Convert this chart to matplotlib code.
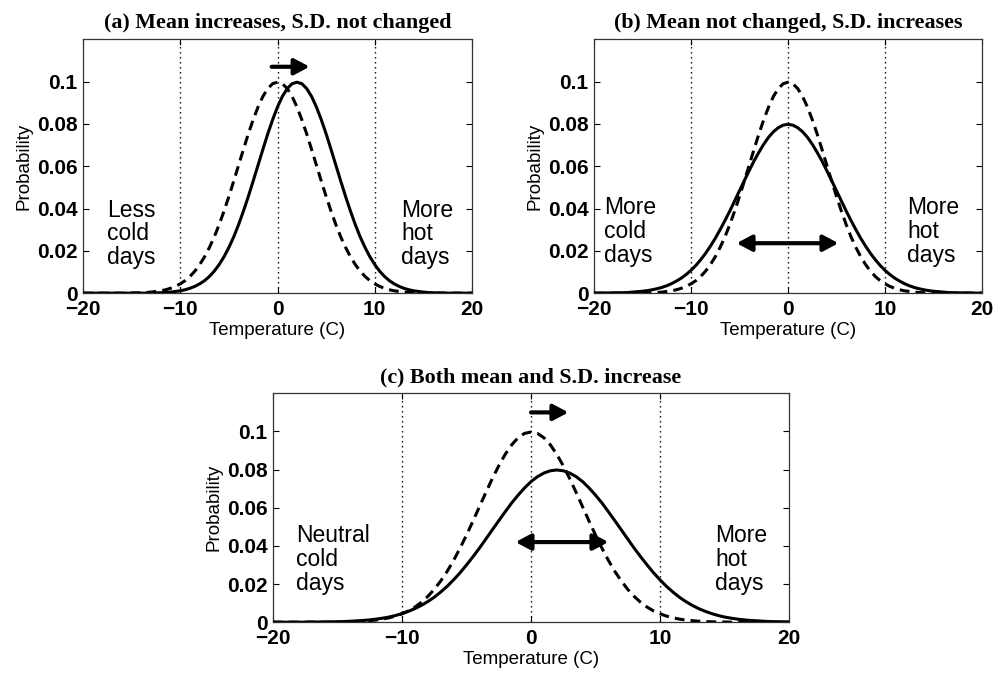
import matplotlib
matplotlib.use("Agg")
import matplotlib.pyplot as plt

# temperature grid (C), every half degree
temps = [-20.0, -19.5, -19.0, -18.5, -18.0, -17.5, -17.0, -16.5, -16.0, -15.5,
         -15.0, -14.5, -14.0, -13.5, -13.0, -12.5, -12.0, -11.5, -11.0, -10.5,
         -10.0, -9.5, -9.0, -8.5, -8.0, -7.5, -7.0, -6.5, -6.0, -5.5,
         -5.0, -4.5, -4.0, -3.5, -3.0, -2.5, -2.0, -1.5, -1.0, -0.5,
         0.0,
         0.5, 1.0, 1.5, 2.0, 2.5, 3.0, 3.5, 4.0, 4.5, 5.0,
         5.5, 6.0, 6.5, 7.0, 7.5, 8.0, 8.5, 9.0, 9.5, 10.0,
         10.5, 11.0, 11.5, 12.0, 12.5, 13.0, 13.5, 14.0, 14.5, 15.0,
         15.5, 16.0, 16.5, 17.0, 17.5, 18.0, 18.5, 19.0, 19.5, 20.0]

# reference distribution (dashed, same in every panel)
prob_base = [0, 0, 0, 0, 0, 0, 0, 0, 0, 0,
             0.0001, 0.0001, 0.0002, 0.0003, 0.0005, 0.0008, 0.0011, 0.0016, 0.0023, 0.0032,
             0.0044, 0.0059, 0.0079, 0.0104, 0.0135, 0.0172, 0.0216, 0.0266, 0.0324, 0.0388,
             0.0457, 0.0530, 0.0605, 0.0680, 0.0753, 0.0820, 0.0880, 0.0930, 0.0967, 0.0990,
             0.0997,
             0.0990, 0.0967, 0.0930, 0.0880, 0.0820, 0.0753, 0.0680, 0.0605, 0.0530, 0.0457,
             0.0388, 0.0324, 0.0266, 0.0216, 0.0172, 0.0135, 0.0104, 0.0079, 0.0059, 0.0044,
             0.0032, 0.0023, 0.0016, 0.0011, 0.0008, 0.0005, 0.0003, 0.0002, 0.0001, 0.0001,
             0, 0, 0, 0, 0, 0, 0, 0, 0, 0]

# (a) mean shifted warmer, same spread
prob_a = [0, 0, 0, 0, 0, 0, 0, 0, 0, 0,
          0, 0, 0, 0, 0.0001, 0.0001, 0.0002, 0.0003, 0.0005, 0.0008,
          0.0011, 0.0016, 0.0023, 0.0032, 0.0044, 0.0059, 0.0079, 0.0104, 0.0135, 0.0172,
          0.0216, 0.0266, 0.0324, 0.0388, 0.0457, 0.0530, 0.0605, 0.0680, 0.0753, 0.0820,
          0.0880, 0.0930, 0.0967, 0.0990, 0.0997, 0.0990, 0.0967, 0.0930, 0.0880, 0.0820,
          0.0753, 0.0680, 0.0605, 0.0530, 0.0457, 0.0388, 0.0324, 0.0266, 0.0216, 0.0172,
          0.0135, 0.0104, 0.0079, 0.0059, 0.0044, 0.0032, 0.0023, 0.0016, 0.0011, 0.0008,
          0.0005, 0.0003, 0.0002, 0.0001, 0.0001, 0, 0, 0, 0, 0,
          0]

# (b) same mean, wider spread
prob_b = [0, 0, 0.0001, 0.0001, 0.0001, 0.0002, 0.0002, 0.0003, 0.0005, 0.0007,
          0.0009, 0.0012, 0.0016, 0.0021, 0.0027, 0.0035, 0.0045, 0.0057, 0.0071, 0.0088,
          0.0108, 0.0131, 0.0158, 0.0188, 0.0222, 0.0259, 0.0300, 0.0343, 0.0388, 0.0436,
          0.0484, 0.0532, 0.0579, 0.0625, 0.0666, 0.0704, 0.0737, 0.0763, 0.0782, 0.0794,
          0.0798,
          0.0794, 0.0782, 0.0763, 0.0737, 0.0704, 0.0666, 0.0625, 0.0579, 0.0532, 0.0484,
          0.0436, 0.0388, 0.0343, 0.0300, 0.0259, 0.0222, 0.0188, 0.0158, 0.0131, 0.0108,
          0.0088, 0.0071, 0.0057, 0.0045, 0.0035, 0.0027, 0.0021, 0.0016, 0.0012, 0.0009,
          0.0007, 0.0005, 0.0003, 0.0002, 0.0002, 0.0001, 0.0001, 0.0001, 0, 0]

# (c) mean shifted warmer and wider spread
prob_c = [0, 0, 0, 0, 0, 0, 0.0001, 0.0001, 0.0001, 0.0002,
          0.0002, 0.0003, 0.0005, 0.0007, 0.0009, 0.0012, 0.0016, 0.0021, 0.0027, 0.0035,
          0.0045, 0.0057, 0.0071, 0.0088, 0.0108, 0.0131, 0.0158, 0.0188, 0.0222, 0.0259,
          0.0300, 0.0343, 0.0388, 0.0436, 0.0484, 0.0532, 0.0579, 0.0625, 0.0666, 0.0704,
          0.0737, 0.0763, 0.0782, 0.0794, 0.0798, 0.0794, 0.0782, 0.0763, 0.0737, 0.0704,
          0.0666, 0.0625, 0.0579, 0.0532, 0.0484, 0.0436, 0.0388, 0.0343, 0.0300, 0.0259,
          0.0222, 0.0188, 0.0158, 0.0131, 0.0108, 0.0088, 0.0071, 0.0057, 0.0045, 0.0035,
          0.0027, 0.0021, 0.0016, 0.0012, 0.0009, 0.0007, 0.0005, 0.0003, 0.0002, 0.0002,
          0.0001]

titles = ["(a) Mean increases, S.D. not changed",
          "(b) Mean not changed, S.D. increases",
          "(c) Both mean and S.D. increase"]
left_notes = ["Less\ncold\ndays", "More\ncold\ndays", "Neutral\ncold\ndays"]
right_notes = ["More\nhot\ndays", "More\nhot\ndays", "More\nhot\ndays"]

x_ticks = [-20, -10, 0, 10, 20]
y_ticks = [0, 0.02, 0.04, 0.06, 0.08, 0.1]
y_tick_labels = ["0", "0.02", "0.04", "0.06", "0.08", "0.1"]
ref_lines = [-10, 0, 10]

SANS = "Liberation Sans"
SERIF = "Liberation Serif"

fig = plt.figure(figsize=(10, 6.77), dpi=100)

ax_a = fig.add_axes([0.083, 0.567, 0.389, 0.375])
ax_b = fig.add_axes([0.594, 0.567, 0.388, 0.375])
ax_c = fig.add_axes([0.273, 0.081, 0.516, 0.338])


def setup(ax, title, solid):
    for xv in ref_lines:
        ax.axvline(xv, color="k", lw=1.0, linestyle=(0, (1, 2.6)), zorder=1)
    ax.plot(temps, prob_base, color="k", lw=2.2, linestyle=(0, (3.2, 2.0)), zorder=3)
    ax.plot(temps, solid, color="k", lw=2.2, zorder=4)
    ax.set_xlim(-20, 20)
    ax.set_ylim(0, 0.12)
    ax.set_xticks(x_ticks)
    ax.set_yticks(y_ticks)
    ax.set_yticklabels(y_tick_labels)
    ax.tick_params(direction="in", length=4, width=0.8, top=True, right=True,
                   labelsize=15, pad=4)
    ax.tick_params(axis="x", pad=5)
    for lab in ax.get_xticklabels() + ax.get_yticklabels():
        lab.set_fontfamily(SANS)
        lab.set_fontweight("bold")
    for sp in ax.spines.values():
        sp.set_linewidth(0.9)
        sp.set_color("#333333")
    ax.set_xlabel("Temperature (C)", fontsize=13.5, family=SANS, labelpad=2)
    ax.set_ylabel("Probability", fontsize=13.5, family=SANS, labelpad=3)
    ax.set_title(title, fontsize=15.8, family=SERIF, fontweight="bold", pad=8)


def arrow(ax, x0, x1, y, style):
    ax.annotate("", xy=(x1, y), xytext=(x0, y),
                arrowprops=dict(arrowstyle=style + ",head_length=0.6,head_width=0.32",
                                lw=3, color="k", mutation_scale=15,
                                shrinkA=0, shrinkB=0), zorder=5)


setup(ax_a, titles[0], prob_a)
setup(ax_b, titles[1], prob_b)
setup(ax_c, titles[2], prob_c)

note_kw = dict(fontsize=16.5, family=SANS, va="center", ha="left", linespacing=1.05)
ax_a.text(-17.5, 0.028, left_notes[0], **note_kw)
ax_a.text(12.7, 0.028, right_notes[0], **note_kw)
ax_b.text(-19.0, 0.029, left_notes[1], **note_kw)
ax_b.text(12.3, 0.029, right_notes[1], **note_kw)
ax_c.text(-18.2, 0.033, left_notes[2], **note_kw)
ax_c.text(14.3, 0.033, right_notes[2], **note_kw)

arrow(ax_a, -0.6, 3.3, 0.107, "-|>")
arrow(ax_b, -5.3, 5.2, 0.0236, "<|-|>")
arrow(ax_c, 0.0, 2.9, 0.110, "-|>")
arrow(ax_c, -1.2, 6.0, 0.042, "<|-|>")

fig.savefig("out.png", dpi=100)
